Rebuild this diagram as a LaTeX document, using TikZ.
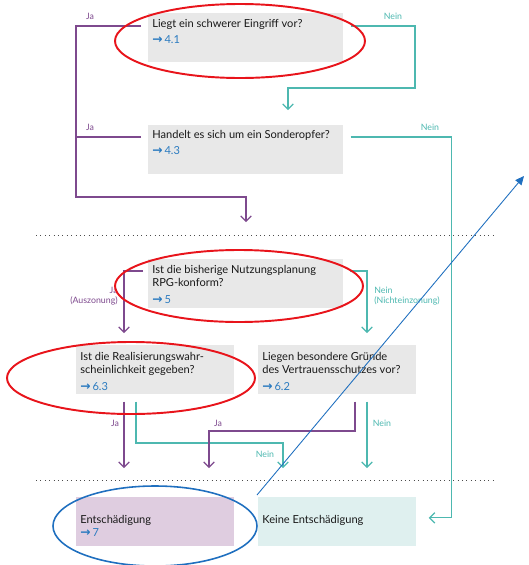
\documentclass[tikz,border=0pt]{standalone}
\usepackage{fontspec}
\setmainfont{Lato}
\newfontfamily\pfeilfont{DejaVu Sans}
\usetikzlibrary{calc,arrows.meta}

\definecolor{lila}{HTML}{7E4A8E}
\definecolor{tuerkis}{HTML}{4DB8B0}
\definecolor{boxgrau}{HTML}{E8E8E8}
\definecolor{boxlila}{HTML}{DFCDE0}
\definecolor{boxtuerkis}{HTML}{DFF0EF}
\definecolor{verweis}{HTML}{2B7BC0}
\definecolor{markrot}{HTML}{E8141B}
\definecolor{markblau}{HTML}{1F6FBF}

\newcommand{\verweis}[1]{\textcolor{verweis}{{\pfeilfont\bfseries\fontsize{7}{7}\selectfont →}\,#1}}

\begin{document}
\begin{tikzpicture}[x=0.02cm,y=-0.02cm,
  kasten/.style={fill=boxgrau,anchor=north west,inner sep=0pt,minimum height=0.98cm},
  breit/.style={kasten,minimum width=3.9cm},
  schmal/.style={kasten,minimum width=3.16cm},
  fragetext/.style={anchor=base west,inner sep=0pt,align=left,
    font=\fontsize{6.3}{7.4}\selectfont,text=black!90},
  ja/.style={draw=lila,line width=0.7pt},
  nein/.style={draw=tuerkis,line width=0.7pt},
  pfeil/.style={-{Straight Barb[length=3pt,width=6pt]}},
  jatext/.style={text=lila,font=\fontsize{5}{6}\selectfont,inner sep=0pt,align=center},
  neintext/.style={jatext,text=tuerkis},
  markierung/.style={line width=1.1pt}]
  \useasboundingbox (0,0) rectangle (528,565);

  % Kaesten
  \node[breit] (q1) at (148,13) {};
  \node[breit] (q2) at (148,125) {};
  \node[breit] (q3) at (148,259) {};
  \node[schmal] (q4) at (76,345) {};
  \node[schmal] (q5) at (258,345) {};
  \node[schmal,fill=boxlila] (q6) at (76,497) {};
  \node[schmal,fill=boxtuerkis] (q7) at (258,497) {};

  % Texte (Grundlinie der letzten Zeile)
  \node[fragetext] (t1) at ($(q1.north west)+(4,30)$) {Liegt ein schwerer Eingriff vor?\\[1.6pt]\verweis{4.1}};
  \node[fragetext] (t2) at ($(q2.north west)+(4,29)$) {Handelt es sich um ein Sonderopfer?\\[1.6pt]\verweis{4.3}};
  \node[fragetext] (t3) at ($(q3.north west)+(4,44)$) {Ist die bisherige Nutzungsplanung\\RPG-konform?\\[2.2pt]\verweis{5}};
  \node[fragetext] (t4) at ($(q4.north west)+(4,45)$) {Ist die Realisierungswahr-\\scheinlichkeit gegeben?\\[2.2pt]\verweis{6.3}};
  \node[fragetext] (t5) at ($(q5.north west)+(4,45)$) {Liegen besondere Gründe\\des Vertrauensschutzes vor?\\[2.2pt]\verweis{6.2}};
  \node[fragetext] (t6) at ($(q6.north west)+(4,39)$) {Entschädigung\\\verweis{7}};
  \node[fragetext] (t7) at ($(q7.north west)+(4,26)$) {Keine Entschädigung};

  % Trennlinien
  \draw[dotted,black!70,line width=0.5pt] (36,235) -- (495,235);
  \draw[dotted,black!70,line width=0.5pt] (36,480) -- (495,480);

  % oberer Teil
  \coordinate (sammel) at (76,197);
  \coordinate (ziel1) at (246,222);
  \draw[ja,pfeil] ($(q1.north west)+(-7,13)$) -| (sammel) -| (ziel1);
  \draw[ja] ($(q2.north west)+(-7,12)$) -| (sammel);
  \draw[nein,pfeil] ($(q1.north east)+(7,13)$) -| (415,88) -| ($(q2.north west)+(140,-15)$);
  \draw[nein,pfeil] ($(q2.north east)+(7,12)$) -| ($(q7.east)+(35,-4)$) -- ($(q7.east)+(12,-4)$);
  \node[jatext] (l1) at (90,16) {Ja};
  \node[jatext] (l2) at (90,127) {Ja};
  \node[neintext] (l3) at (393,16) {Nein};
  \node[neintext] (l4) at (430,127) {Nein};

  % mittlerer Teil
  \draw[ja,pfeil] ($(q3.north west)+(-5,12)$) -| ($(q4.north west)+(48,-12)$);
  \draw[nein,pfeil] ($(q3.north east)+(6,12)$) -| ($(q5.north west)+(109,-12)$);
  \node[jatext,anchor=east,align=right] (l5) at (118,296) {Ja\\(Auszonung)};
  \node[neintext,anchor=west,align=left] (l6) at (374,296) {Nein\\(Nichteinzonung)};

  % unterer Teil
  \draw[ja,pfeil] ($(q4.south west)+(48,7)$) -- ($(q6.north west)+(48,-29)$);
  \draw[nein,pfeil] ($(q4.south west)+(60,7)$) |- ($(q7.north west)+(25,-54)$) -- ($(q7.north west)+(25,-29)$);
  \draw[ja,pfeil] ($(q5.south west)+(97,7)$) |- ($(q6.north west)+(133,-66)$) -- ($(q6.north west)+(133,-29)$);
  \draw[nein,pfeil] ($(q5.south west)+(109,7)$) -- ($(q7.north west)+(109,-29)$);
  \node[jatext] (l7) at (115,423) {Ja};
  \node[jatext] (l8) at (218,423) {Ja};
  \node[neintext] (l9) at (382,423) {Nein};
  \node[neintext] (l10) at (265,454) {Nein};

  % Markierungen
  \draw[markrot,markierung] (240,41) ellipse [x radius=125, y radius=37];
  \draw[markrot,markierung] (239,286) ellipse [x radius=124, y radius=36];
  \draw[markrot,markierung] (131,378) ellipse [x radius=124, y radius=36];
  \draw[markblau,line width=0.9pt] (155,526) ellipse [x radius=102, y radius=40];
  \coordinate (hinweis) at (524,176);
  \draw[markblau,line width=0.5pt,-{Triangle[length=5pt,width=4.5pt]}] (257,495) -- (hinweis);
\end{tikzpicture}
\end{document}
